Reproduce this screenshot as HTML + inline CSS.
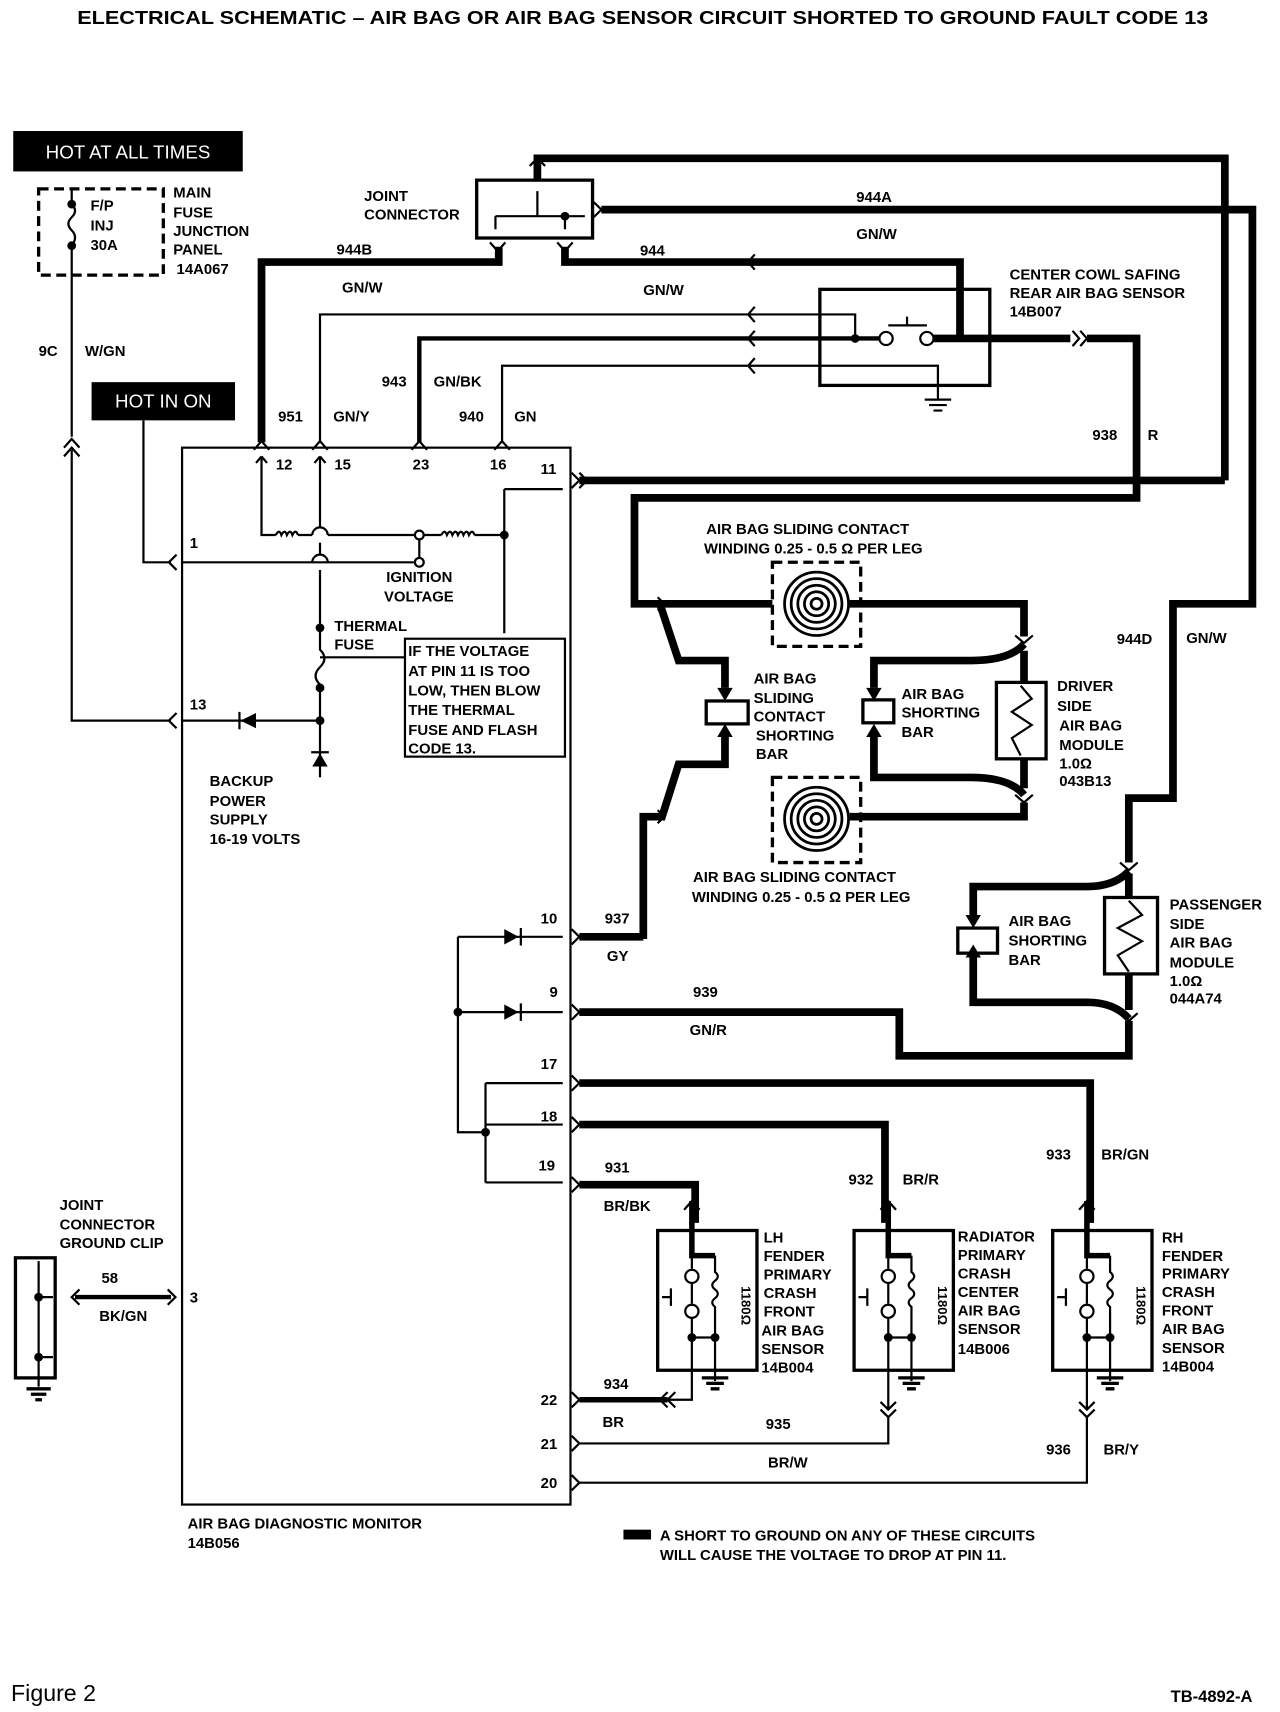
<!DOCTYPE html>
<html><head><meta charset="utf-8"><style>
html,body{margin:0;padding:0;background:#fff;}
svg{display:block;}
text{font-family:"Liberation Sans",sans-serif;font-weight:bold;font-size:13.5px;fill:#000;}
.t{stroke:#000;stroke-width:7;fill:none;stroke-linejoin:miter;}
.n{stroke:#000;stroke-width:2;fill:none;}
.d{stroke:#000;stroke-width:3;fill:none;stroke-dasharray:9,5;}
</style></head><body>
<svg width="1280" height="1712" viewBox="0 0 1160 1568" preserveAspectRatio="none" xmlns="http://www.w3.org/2000/svg">
<text x="70" y="22" textLength="1025" lengthAdjust="spacingAndGlyphs" style="font-size:17px">ELECTRICAL SCHEMATIC – AIR BAG OR AIR BAG SENSOR CIRCUIT SHORTED TO GROUND FAULT CODE 13</text>

<!-- HOT AT ALL TIMES -->
<rect x="12" y="120" width="208" height="37" fill="#000"/>
<text x="116" y="145" text-anchor="middle" style="fill:#fff;font-weight:normal;font-size:17px">HOT AT ALL TIMES</text>
<rect x="35" y="173" width="113" height="79" class="d"/>
<path class="n" d="M65 173 V187 M65 225 V252"/>
<path class="n" d="M65 187 q6 6 0 12 q-6 6 0 12 q6 6 0 14"/>
<circle cx="65" cy="187" r="4"/><circle cx="65" cy="225" r="4"/>
<text x="82" y="193">F/P</text><text x="82" y="211">INJ</text><text x="82" y="229">30A</text>
<text x="157" y="181">MAIN</text><text x="157" y="199">FUSE</text><text x="157" y="216">JUNCTION</text><text x="157" y="233">PANEL</text><text x="160" y="251">14A067</text>
<path class="n" d="M65 252 V400 M65 412 V660 H155"/>
<path class="n" d="M58 410 L65 402 L72 410 M58 418 L65 410 L72 418"/>
<text x="35" y="326">9C</text><text x="77" y="326">W/GN</text>
<rect x="83" y="350" width="130" height="35" fill="#000"/>
<text x="148" y="373" text-anchor="middle" style="fill:#fff;font-weight:normal;font-size:17px">HOT IN ON</text>
<path class="n" d="M130 385 V515 H155"/>
<path class="n" d="M160 508 L153 515 L160 522"/><path class="n" d="M160 653 L153 660 L160 667"/>

<!-- Monitor box -->
<rect x="165" y="410" width="352" height="968" class="n"/>
<text x="170" y="1400">AIR BAG DIAGNOSTIC MONITOR</text><text x="170" y="1418">14B056</text>
<text x="172" y="502">1</text><text x="172" y="650">13</text><text x="172" y="1193">3</text>
<text x="250" y="430">12</text><text x="303" y="430">15</text><text x="374" y="430">23</text><text x="444" y="430">16</text><text x="490" y="434">11</text>

<!-- joint connector -->
<rect x="432" y="165" width="105" height="53" class="n" style="stroke-width:3"/>
<text x="330" y="184">JOINT</text><text x="330" y="201">CONNECTOR</text>
<path class="n" d="M487 198 V175 M449 198 H512 M449 198 V210 M512 198 V210 M512 198 H530"/>
<circle cx="512" cy="198" r="4"/>
<path class="t" d="M487 165 V145 H1110 V440"/>
<path class="t" d="M545 192 H1135 V553 H1063 V731 H1023 V790"/>
<path class="t" d="M452 226 V240 H237 V405"/>
<path class="t" d="M512 226 V240 H870 V310"/>
<path class="n" d="M444 222 L451 230 L458 222 M505 222 L512 230 L519 222 M538 185 L545 192 L538 199 M480 152 L487 145 L494 152"/>
<text x="305" y="233">944B</text><text x="310" y="268">GN/W</text>
<text x="580" y="234">944</text><text x="583" y="270">GN/W</text>
<text x="776" y="185">944A</text><text x="776" y="219">GN/W</text>
<!-- thin wires to safing sensor -->
<path class="n" d="M290 405 V288 H775 V310"/>
<path class="n" style="stroke-width:4" d="M380 405 V310 H800"/>
<path class="n" d="M455 405 V335 H850 V353"/>
<path class="n" d="M684 233 l-6 7 l6 7 M684 281 l-6 7 l6 7 M684 303 l-6 7 l6 7 M684 328 l-6 7 l6 7"/>
<rect x="743" y="265" width="154" height="88" class="n" style="stroke-width:3"/>
<circle cx="775" cy="310" r="4"/><circle cx="803" cy="310" r="6" fill="#fff" stroke="#000" stroke-width="2"/><circle cx="840" cy="310" r="6" fill="#fff" stroke="#000" stroke-width="2"/>
<path class="n" d="M805 298 H840 M822 298 V290"/>
<path class="t" d="M846 310 H970"/>
<path class="n" d="M850 353 V365 M838 366 H862 M842 371 H858 M846 376 H854"/>
<text x="915" y="256">CENTER COWL SAFING</text><text x="915" y="273">REAR AIR BAG SENSOR</text><text x="915" y="290">14B007</text>
<path class="t" d="M985 310 H1030 V440"/>
<path class="n" d="M972 303 l6 7 l-6 7 M979 303 l6 7 l-6 7"/>
<text x="990" y="403">938</text><text x="1040" y="403">R</text>
<text x="252" y="386">951</text><text x="302" y="386">GN/Y</text><text x="346" y="354">943</text><text x="393" y="354">GN/BK</text><text x="416" y="386">940</text><text x="466" y="386">GN</text>
<path class="n" d="M230 412 L237 404 L244 412 M283 412 L290 404 L297 412 M373 412 L380 404 L387 412 M448 412 L455 404 L462 412"/>
<!-- internal circuit -->
<path class="n" d="M237 418 V490 H250 M270 490 H283 M297 490 H380 M380 490 H400 M430 490 H457 V580 M457 448 V490 M457 448 H510"/>
<path class="n" d="M250 490 q3 -6 5 0 q3 -6 5 0 q3 -6 5 0 q3 -6 5 0 M400 490 q3 -6 5 0 q3 -6 5 0 q3 -6 5 0 q3 -6 5 0 q3 -6 5 0 q3 -6 5 0"/>
<path class="n" d="M283 490 a7 7 0 0 1 14 0 M283 515 a7 7 0 0 1 14 0"/>
<circle cx="380" cy="490" r="4" fill="#fff" stroke="#000" stroke-width="2"/><circle cx="457" cy="490" r="4"/>
<path class="n" d="M380 494 V515 M290 418 V483 M290 497 V508 M290 522 V575 M237 418 l-5 6 M237 418 l5 6 M290 418 l-5 6 M290 418 l5 6"/>
<circle cx="380" cy="515" r="4" fill="#fff" stroke="#000" stroke-width="2"/>
<text x="350" y="533">IGNITION</text><text x="348" y="551">VOLTAGE</text>
<path class="n" d="M165 515 H375 M290 575 V595 q8 8 0 16 q-8 8 0 16 V700"/>
<circle cx="290" cy="575" r="4"/><circle cx="290" cy="630" r="4"/><circle cx="290" cy="660" r="4"/>
<text x="303" y="578">THERMAL</text><text x="303" y="595">FUSE</text>
<path class="n" d="M290 602 H367 M165 660 H290"/>
<path d="M232 653 L218 660 L232 667 Z"/><path class="n" d="M217 652 V668"/>
<path d="M283 702 L290 690 L297 702 Z"/><path class="n" d="M282 689 H298 M290 700 V712"/>
<text x="190" y="720">BACKUP</text><text x="190" y="738">POWER</text><text x="190" y="755">SUPPLY</text><text x="190" y="773">16-19 VOLTS</text>
<rect x="367" y="585" width="145" height="108" class="n"/>
<text x="370" y="601">IF THE VOLTAGE</text><text x="370" y="619">AT PIN 11 IS TOO</text><text x="370" y="637">LOW, THEN BLOW</text><text x="370" y="655">THE THERMAL</text><text x="370" y="673">FUSE AND FLASH</text><text x="370" y="690">CODE 13.</text>

<!-- pin 11 wire -->
<path class="t" d="M525 440 H1110"/>
<path class="n" d="M518 433 l7 7 l-7 7 M525 433 l7 7 l-7 7"/>
<path class="t" d="M1030 440 V456 H575 V553 H700"/>
<!-- windings -->
<rect x="700" y="515" width="80" height="77" class="d"/>
<rect x="700" y="712" width="80" height="78" class="d"/>
<g class="n" style="stroke-width:2.5">
<circle cx="740" cy="553" r="5"/><circle cx="740" cy="553" r="11"/><circle cx="740" cy="553" r="17"/><circle cx="740" cy="553" r="23"/><circle cx="740" cy="553" r="29"/>
<circle cx="740" cy="750" r="5"/><circle cx="740" cy="750" r="11"/><circle cx="740" cy="750" r="17"/><circle cx="740" cy="750" r="23"/><circle cx="740" cy="750" r="29"/>
</g>
<path class="t" d="M770 553 H928 V583 M928 596 V625 M598 553 L615 605 H657 V630 M928 590 Q915 605 880 605 H792 V630"/>
<path class="t" d="M583 860 V748 H600 L615 700 H657 V675 M770 748 H928 V735 M928 695 V722 M928 728 Q915 712 880 712 H792 V675"/>
<path d="M650 630 L657 642 L664 630 Z M785 630 L792 642 L799 630 Z M650 675 L657 663 L664 675 Z M785 675 L792 663 L799 675 Z"/>
<rect x="640" y="642" width="38" height="21" class="n" style="stroke-width:3" fill="#fff"/>
<rect x="782" y="641" width="28" height="21" class="n" style="stroke-width:3" fill="#fff"/>
<rect x="903" y="625" width="45" height="70" class="n" style="stroke-width:3"/>
<path class="n" d="M925 628 L935 640 L917 652 L935 664 L917 676 L925 692"/>
<path class="n" d="M920 582 l8 7 l8 -7 M920 728 l8 7 l8 -7 M596 547 l6 6 l-6 6 M596 742 l6 6 l-6 6"/>
<text x="640" y="489">AIR BAG SLIDING CONTACT</text><text x="638" y="507">WINDING 0.25 - 0.5 Ω PER LEG</text>
<text x="628" y="808">AIR BAG SLIDING CONTACT</text><text x="627" y="826">WINDING 0.25 - 0.5 Ω PER LEG</text>
<text x="683" y="626">AIR BAG</text><text x="683" y="644">SLIDING</text><text x="683" y="661">CONTACT</text><text x="685" y="678">SHORTING</text><text x="685" y="695">BAR</text>
<text x="817" y="640">AIR BAG</text><text x="817" y="657">SHORTING</text><text x="817" y="675">BAR</text>
<text x="958" y="633">DRIVER</text><text x="958" y="651">SIDE</text><text x="960" y="669">AIR BAG</text><text x="960" y="687">MODULE</text><text x="960" y="704">1.0Ω</text><text x="960" y="720">043B13</text>
<text x="1012" y="590">944D</text><text x="1075" y="589">GN/W</text>
<!-- passenger -->
<path class="t" d="M1023 800 V822 M1023 893 V925 M1023 798 Q1010 812 985 812 H882 V838 M882 877 V918 H985 Q1010 918 1023 933"/>
<path d="M875 838 L882 850 L889 838 Z M875 877 L882 865 L889 877 Z"/>
<rect x="868" y="850" width="36" height="23" class="n" style="stroke-width:3" fill="#fff"/>
<rect x="1001" y="822" width="48" height="70" class="n" style="stroke-width:3"/>
<path class="n" d="M1023 825 L1035 838 L1013 850 L1035 862 L1013 875 L1023 890"/>
<path class="n" d="M1015 790 l8 7 l8 -7 M1015 928 l8 7 l8 -7"/>
<text x="914" y="848">AIR BAG</text><text x="914" y="866">SHORTING</text><text x="914" y="884">BAR</text>
<text x="1060" y="833">PASSENGER</text><text x="1060" y="851">SIDE</text><text x="1060" y="868">AIR BAG</text><text x="1060" y="886">MODULE</text><text x="1060" y="903">1.0Ω</text><text x="1060" y="919">044A74</text>
<!-- pins 10 9 -->
<path class="t" d="M525 858 H583"/>
<path class="t" d="M525 927 H815 V967 H1023 V935"/>
<path class="n" d="M518 851 l7 7 l-7 7 M518 920 l7 7 l-7 7"/>
<text x="490" y="846">10</text><text x="498" y="913">9</text><text x="548" y="846">937</text><text x="550" y="880">GY</text><text x="628" y="913">939</text><text x="625" y="948">GN/R</text>
<path class="n" d="M415 858 H510 M415 927 H510 M415 858 V1037 H440 M440 992 V1083 M440 992 H510 M440 1030 H510 M440 1083 H510"/>
<path d="M457 851 L470 858 L457 865 Z M457 920 L470 927 L457 934 Z"/><path class="n" d="M472 850 V866 M472 919 V935"/>
<circle cx="415" cy="927" r="4"/><circle cx="440" cy="1037" r="4"/>
<text x="490" y="979">17</text><text x="490" y="1027">18</text><text x="488" y="1072">19</text>
<path class="t" d="M525 992 H988 V1120 M525 1030 H802 V1120 M525 1085 H630 V1120"/>
<path class="n" d="M518 985 l7 7 l-7 7 M518 1023 l7 7 l-7 7 M518 1078 l7 7 l-7 7"/>
<text x="548" y="1074">931</text><text x="547" y="1109">BR/BK</text><text x="769" y="1085">932</text><text x="818" y="1085">BR/R</text><text x="948" y="1062">933</text><text x="998" y="1062">BR/GN</text>
<!-- sensors -->
<g id="s1">
<rect x="596" y="1127" width="90" height="128" class="n" style="stroke-width:3"/>
<path class="t" style="stroke-width:5" d="M627 1100 V1150 H648"/>
<path class="n" d="M627 1150 V1162 M627 1176 V1194 M627 1208 V1255 M648 1150 V1165 q5 4 0 8 q-5 4 0 8 q5 4 0 8 q-5 4 0 8 V1225 M648 1225 V1265 M627 1225 H648 M608 1180 V1196 M600 1188 H608"/>
<circle cx="627" cy="1169" r="6" fill="#fff" stroke="#000" stroke-width="2"/><circle cx="627" cy="1201" r="6" fill="#fff" stroke="#000" stroke-width="2"/>
<circle cx="627" cy="1225" r="4"/><circle cx="648" cy="1225" r="4"/>
<path class="n" d="M620 1108 l7 -8 l7 8"/>
<path class="n" style="stroke-width:3" d="M636 1262 H660 M640 1267 H656 M644 1272 H652"/>
</g>
<use href="#s1" x="178"/>
<use href="#s1" x="358"/>
<text transform="translate(672,1178) rotate(90)" style="font-size:12px">1180Ω</text>
<text transform="translate(850,1178) rotate(90)" style="font-size:12px">1180Ω</text>
<text transform="translate(1030,1178) rotate(90)" style="font-size:12px">1180Ω</text>
<text x="692" y="1138">LH</text><text x="692" y="1155">FENDER</text><text x="692" y="1172">PRIMARY</text><text x="692" y="1189">CRASH</text><text x="692" y="1206">FRONT</text><text x="690" y="1223">AIR BAG</text><text x="690" y="1240">SENSOR</text><text x="690" y="1257">14B004</text>
<text x="868" y="1137">RADIATOR</text><text x="868" y="1154">PRIMARY</text><text x="868" y="1171">CRASH</text><text x="868" y="1188">CENTER</text><text x="868" y="1205">AIR BAG</text><text x="868" y="1222">SENSOR</text><text x="868" y="1240">14B006</text>
<text x="1053" y="1138">RH</text><text x="1053" y="1155">FENDER</text><text x="1053" y="1171">PRIMARY</text><text x="1053" y="1188">CRASH</text><text x="1053" y="1205">FRONT</text><text x="1053" y="1222">AIR BAG</text><text x="1053" y="1239">SENSOR</text><text x="1053" y="1256">14B004</text>
<!-- returns -->
<path class="t" style="stroke-width:5" d="M525 1282 H605"/>
<path class="n" d="M605 1282 H627 V1255 M805 1255 V1290 M805 1298 V1322 H525 M985 1255 V1290 M985 1298 V1358 H525"/>
<path class="n" d="M518 1275 l7 7 l-7 7 M518 1315 l7 7 l-7 7 M518 1351 l7 7 l-7 7 M605 1275 l-7 7 l7 7 M612 1275 l-7 7 l7 7 M798 1284 l7 7 l7 -7 M798 1291 l7 7 l7 -7 M978 1284 l7 7 l7 -7 M978 1291 l7 7 l7 -7"/>
<text x="490" y="1287">22</text><text x="490" y="1327">21</text><text x="490" y="1363">20</text>
<text x="547" y="1272">934</text><text x="546" y="1307">BR</text><text x="694" y="1309">935</text><text x="696" y="1344">BR/W</text><text x="948" y="1332">936</text><text x="1000" y="1332">BR/Y</text>
<!-- ground clip -->
<rect x="14" y="1152" width="36" height="110" class="n" style="stroke-width:3"/>
<path class="n" d="M35 1155 V1270 M35 1188 H48 M35 1243 H48"/>
<circle cx="35" cy="1188" r="4"/><circle cx="35" cy="1243" r="4"/>
<path class="n" style="stroke-width:3" d="M24 1272 H46 M28 1277 H42 M32 1282 H38"/>
<path class="t" style="stroke-width:4" d="M68 1188 H155"/>
<path class="n" d="M72 1181 l-7 7 l7 7 M152 1181 l7 7 l-7 7"/>
<text x="54" y="1108">JOINT</text><text x="54" y="1126">CONNECTOR</text><text x="54" y="1143">GROUND CLIP</text>
<text x="92" y="1175">58</text><text x="90" y="1210">BK/GN</text>
<!-- legend -->
<rect x="565" y="1401" width="25" height="9" fill="#000"/>
<text x="598" y="1411">A SHORT TO GROUND ON ANY OF THESE CIRCUITS</text>
<text x="598" y="1429">WILL CAUSE THE VOLTAGE TO DROP AT PIN 11.</text>
<text x="10" y="1558" style="font-weight:normal;font-size:21px">Figure 2</text>
<text x="1135" y="1559" text-anchor="end" style="font-size:15px">TB-4892-A</text>
</svg>
</body></html>
